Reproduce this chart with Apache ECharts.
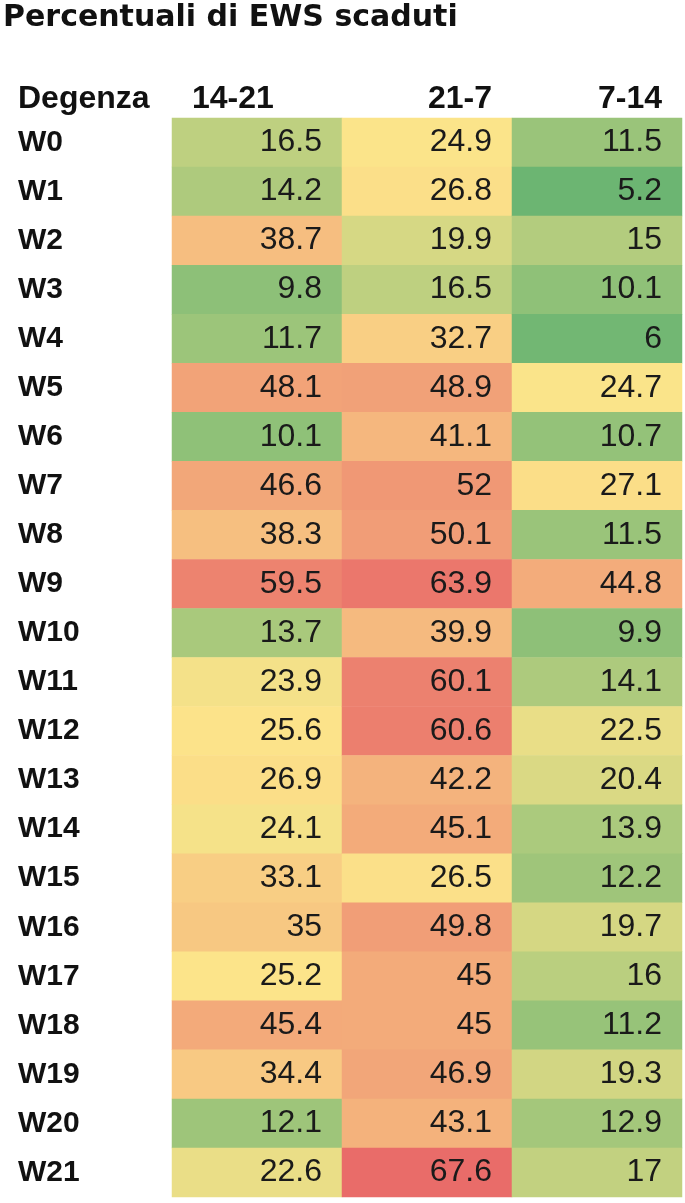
<!DOCTYPE html>
<html><head><meta charset="utf-8">
<script src="https://cdn.jsdelivr.net/npm/echarts@6/dist/echarts.min.js"></script>
<style>html,body{margin:0;padding:0;background:#fff}#c{width:685px;height:1203px}</style>
</head><body><div id="c"></div>
<script>
const chartTitle = 'Percentuali di EWS scaduti';
const rowHeader = 'Degenza';
const columns = ['14-21', '21-7', '7-14'];
const wards = ['W0','W1','W2','W3','W4','W5','W6','W7','W8','W9','W10','W11','W12','W13','W14','W15','W16','W17','W18','W19','W20','W21'];
const shift1421 = [16.5, 14.2, 38.7, 9.8, 11.7, 48.1, 10.1, 46.6, 38.3, 59.5, 13.7, 23.9, 25.6, 26.9, 24.1, 33.1, 35, 25.2, 45.4, 34.4, 12.1, 22.6];
const shift217  = [24.9, 26.8, 19.9, 16.5, 32.7, 48.9, 41.1, 52, 50.1, 63.9, 39.9, 60.1, 60.6, 42.2, 45.1, 26.5, 49.8, 45, 45, 46.9, 43.1, 67.6];
const shift714  = [11.5, 5.2, 15, 10.1, 6, 24.7, 10.7, 27.1, 11.5, 44.8, 9.9, 14.1, 22.5, 20.4, 13.9, 12.2, 19.7, 16, 11.2, 19.3, 12.9, 17];

const seriesCols = [shift1421, shift217, shift714];
const data = [];
seriesCols.forEach((col, c) => col.forEach((v, r) => data.push([c, r, v])));
const all = data.map(d => d[2]);
const vmin = Math.min(...all), vmax = Math.max(...all);
const sorted = all.slice().sort((a, b) => a - b);
const n = sorted.length;
const vmid = n % 2 ? sorted[(n - 1) / 2] : (sorted[n / 2 - 1] + sorted[n / 2]) / 2;

// 3-colour scale (low green, mid yellow at 50th percentile, high red)
const cLow = [108, 181, 114], cMid = [252, 228, 138], cHigh = [233, 108, 105];
function mix(a, b, t) { return a.map((x, i) => Math.round(x + (b[i] - x) * t)); }
function scaleColor(v) {
  const rgb = v <= vmid ? mix(cLow, cMid, (v - vmin) / (vmid - vmin)) : mix(cMid, cHigh, (v - vmid) / (vmax - vmid));
  return 'rgb(' + rgb.join(',') + ')';
}
const STEPS = 200;
const stops = [];
for (let i = 0; i <= STEPS; i++) stops.push(scaleColor(vmin + (vmax - vmin) * i / STEPS));

const FONT = 'Liberation Sans';
const chart = echarts.init(document.getElementById('c'), null, { renderer: 'canvas' });
chart.setOption({
  animation: false,
  backgroundColor: '#fff',
  title: [
    { text: chartTitle, left: 3, top: 3, padding: 0,
      textStyle: { fontFamily: 'DejaVu Sans', fontWeight: 'bold', fontSize: 30, color: '#111' } },
    { text: rowHeader, left: 18, top: 83, padding: 0,
      textStyle: { fontFamily: FONT, fontWeight: 'bold', fontSize: 32, color: '#111' } }
  ],
  grid: { left: 172, right: 3, top: 118, bottom: 6, containLabel: false },
  xAxis: {
    type: 'category', position: 'top', data: columns,
    axisLine: { show: false }, axisTick: { show: false }, splitLine: { show: false },
    axisLabel: {
      interval: 0, margin: 3,
      formatter: (v, i) => i === 0 ? '{l|' + v + '}' : '{r|' + v + '}',
      rich: {
        l: { width: 130, align: 'left', fontFamily: FONT, fontWeight: 'bold', fontSize: 32, color: '#111' },
        r: { width: 130, align: 'right', fontFamily: FONT, fontWeight: 'bold', fontSize: 32, color: '#111' }
      }
    }
  },
  yAxis: {
    type: 'category', inverse: true, data: wards,
    axisLine: { show: false }, axisTick: { show: false }, splitLine: { show: false },
    axisLabel: { interval: 0, align: 'left', margin: 154, fontFamily: FONT, fontWeight: 'bold', fontSize: 30, color: '#111' }
  },
  visualMap: { show: false, type: 'continuous', min: vmin, max: vmax, dimension: 2, inRange: { color: stops } },
  series: [{
    type: 'heatmap', data: data,
    itemStyle: { borderWidth: 0 },
    label: {
      show: true,
      formatter: p => '{v|' + p.value[2] + '}',
      rich: { v: { width: 130, align: 'right', fontFamily: FONT, fontSize: 32, color: '#1a1a1a' } }
    },
    emphasis: { disabled: true }
  }]
});
</script></body></html>
